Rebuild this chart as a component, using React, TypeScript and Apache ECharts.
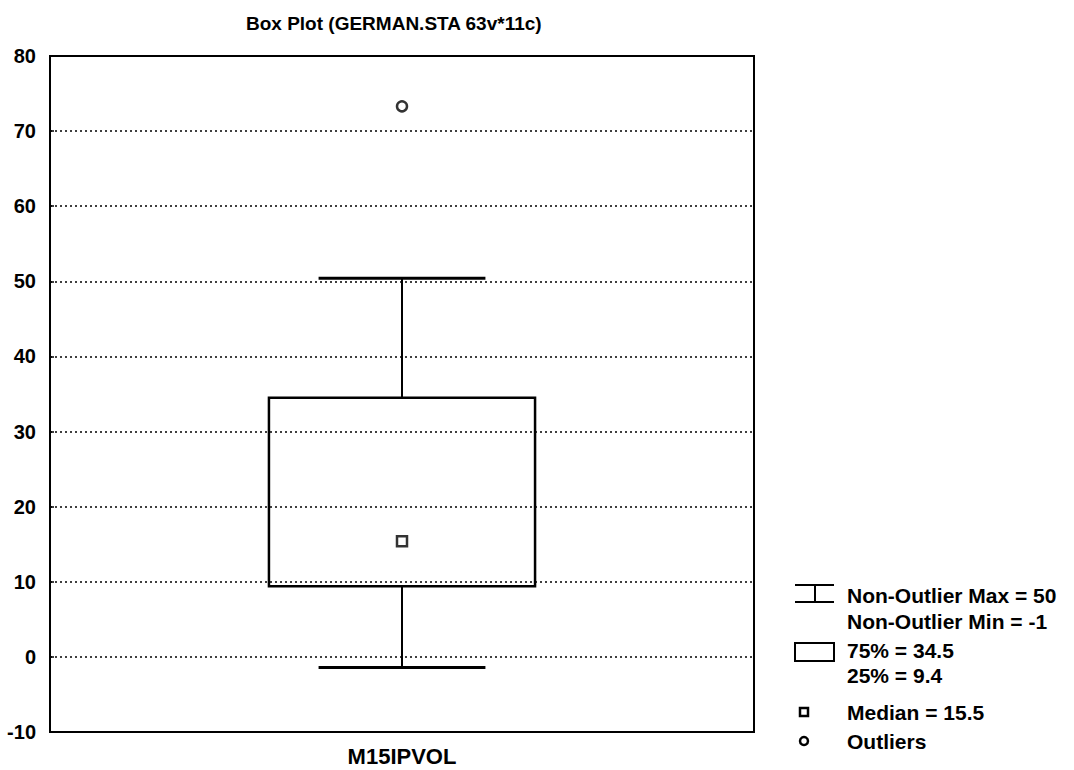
import React, { useEffect, useRef } from "react";
import * as echarts from "echarts";

const categories = ["M15IPVOL"];
const whiskerMax = [50.4];
const quartile75 = [34.5];
const medians = [15.4];
const quartile25 = [9.4];
const whiskerMin = [-1.4];
const outliers = [[0, 73.3]];
const yTicks = { min: -10, max: 80, interval: 10 };
const legendLabels = [
  "Non-Outlier Max = 50",
  "Non-Outlier Min = -1",
  "75% = 34.5",
  "25% = 9.4",
  "Median = 15.5",
  "Outliers",
];
const titleText = "Box Plot (GERMAN.STA 63v*11c)";

const FONT = "'Liberation Sans', Arial, sans-serif";

export default function App() {
  const ref = useRef<HTMLDivElement>(null);
  useEffect(() => {
    if (!ref.current) return;
    const chart = echarts.init(ref.current, null, { renderer: "svg" });
    const boxData = categories.map((c, i) => [
      i,
      whiskerMin[i],
      quartile25[i],
      medians[i],
      quartile75[i],
      whiskerMax[i],
    ]);
    const txt = (x: number, y: number, s: string) => ({
      type: "text",
      x,
      y,
      style: {
        text: s,
        fill: "#000",
        font: `bold 21px ${FONT}`,
        textVerticalAlign: "middle",
      },
    });
    const option: any = {
      animation: false,
      backgroundColor: "#fff",
      title: {
        text: titleText,
        left: 241,
        top: 9,
        textStyle: { fontFamily: FONT, fontSize: 19, fontWeight: "bold", color: "#000" },
      },
      grid: {
        left: 50,
        right: 320,
        top: 56,
        bottom: 38,
        show: true,
        borderColor: "#000",
        borderWidth: 2,
        backgroundColor: "transparent",
      },
      xAxis: {
        type: "category",
        data: categories,
        axisLine: { onZero: false, lineStyle: { color: "#000", width: 2 } },
        axisTick: { show: false },
        axisLabel: { color: "#000", fontFamily: FONT, fontSize: 22, fontWeight: "bold", margin: 13 },
        splitLine: { show: false },
      },
      yAxis: {
        type: "value",
        min: yTicks.min,
        max: yTicks.max,
        interval: yTicks.interval,
        axisLine: { show: true, lineStyle: { color: "#000", width: 2 } },
        axisTick: { show: true, inside: true, length: 4, lineStyle: { color: "#000", width: 1.5 } },
        axisLabel: { color: "#000", fontFamily: FONT, fontSize: 20, fontWeight: "bold", margin: 14 },
        splitLine: { show: true, lineStyle: { color: "#000", type: [2, 3], width: 1.5 } },
      },
      series: [
        {
          type: "custom",
          data: boxData,
          encode: { x: 0, y: [1, 2, 3, 4, 5] },
          renderItem: (params: any, api: any) => {
            const idx = api.value(0);
            const band = api.size([1, 0])[0];
            const boxW = band * 0.378;
            const capW = band * 0.237;
            const pMin = api.coord([idx, api.value(1)]);
            const pQ1 = api.coord([idx, api.value(2)]);
            const pQ3 = api.coord([idx, api.value(4)]);
            const pMax = api.coord([idx, api.value(5)]);
            const cx = pMin[0];
            const ls = { stroke: "#000", lineWidth: 2, fill: "none" };
            return {
              type: "group",
              children: [
                { type: "line", shape: { x1: cx, y1: pMax[1], x2: cx, y2: pQ3[1] }, style: ls },
                { type: "line", shape: { x1: cx, y1: pQ1[1], x2: cx, y2: pMin[1] }, style: ls },
                { type: "line", shape: { x1: cx - capW / 2, y1: pMax[1], x2: cx + capW / 2, y2: pMax[1] }, style: { ...ls, lineWidth: 3 } },
                { type: "line", shape: { x1: cx - capW / 2, y1: pMin[1], x2: cx + capW / 2, y2: pMin[1] }, style: { ...ls, lineWidth: 3 } },
                {
                  type: "rect",
                  shape: { x: cx - boxW / 2, y: pQ3[1], width: boxW, height: pQ1[1] - pQ3[1] },
                  style: { stroke: "#000", lineWidth: 2.5, fill: "none" },
                },
              ],
            };
          },
          z: 5,
        },
        {
          type: "scatter",
          data: categories.map((c, i) => [i, medians[i]]),
          symbol: "rect",
          symbolSize: 10,
          itemStyle: { color: "#fff", borderColor: "#000", borderWidth: 2.5 },
          z: 6,
        },
        {
          type: "scatter",
          data: outliers,
          symbol: "circle",
          symbolSize: 10,
          itemStyle: { color: "#fff", borderColor: "#000", borderWidth: 2.5 },
          z: 6,
        },
      ],
      graphic: [
        { type: "line", shape: { x1: 795, y1: 585, x2: 834, y2: 585 }, style: { stroke: "#000", lineWidth: 2 } },
        { type: "line", shape: { x1: 815, y1: 585, x2: 815, y2: 602 }, style: { stroke: "#000", lineWidth: 2 } },
        { type: "line", shape: { x1: 795, y1: 602, x2: 834, y2: 602 }, style: { stroke: "#000", lineWidth: 2 } },
        { type: "rect", shape: { x: 795, y: 643, width: 39, height: 18 }, style: { stroke: "#000", lineWidth: 2, fill: "#fff" } },
        { type: "rect", shape: { x: 800, y: 708, width: 8, height: 8 }, style: { stroke: "#000", lineWidth: 2.5, fill: "#fff" } },
        { type: "circle", shape: { cx: 804, cy: 741, r: 4 }, style: { stroke: "#000", lineWidth: 2.5, fill: "#fff" } },
        txt(847, 595, legendLabels[0]),
        txt(847, 621, legendLabels[1]),
        txt(847, 650, legendLabels[2]),
        txt(847, 675, legendLabels[3]),
        txt(847, 712, legendLabels[4]),
        txt(847, 741, legendLabels[5]),
      ],
    };
    chart.setOption(option);
    return () => chart.dispose();
  }, []);
  return (
    <div
      ref={ref}
      style={{ position: "fixed", left: 0, top: 0, width: 1074, height: 770, background: "#fff" }}
    />
  );
}
